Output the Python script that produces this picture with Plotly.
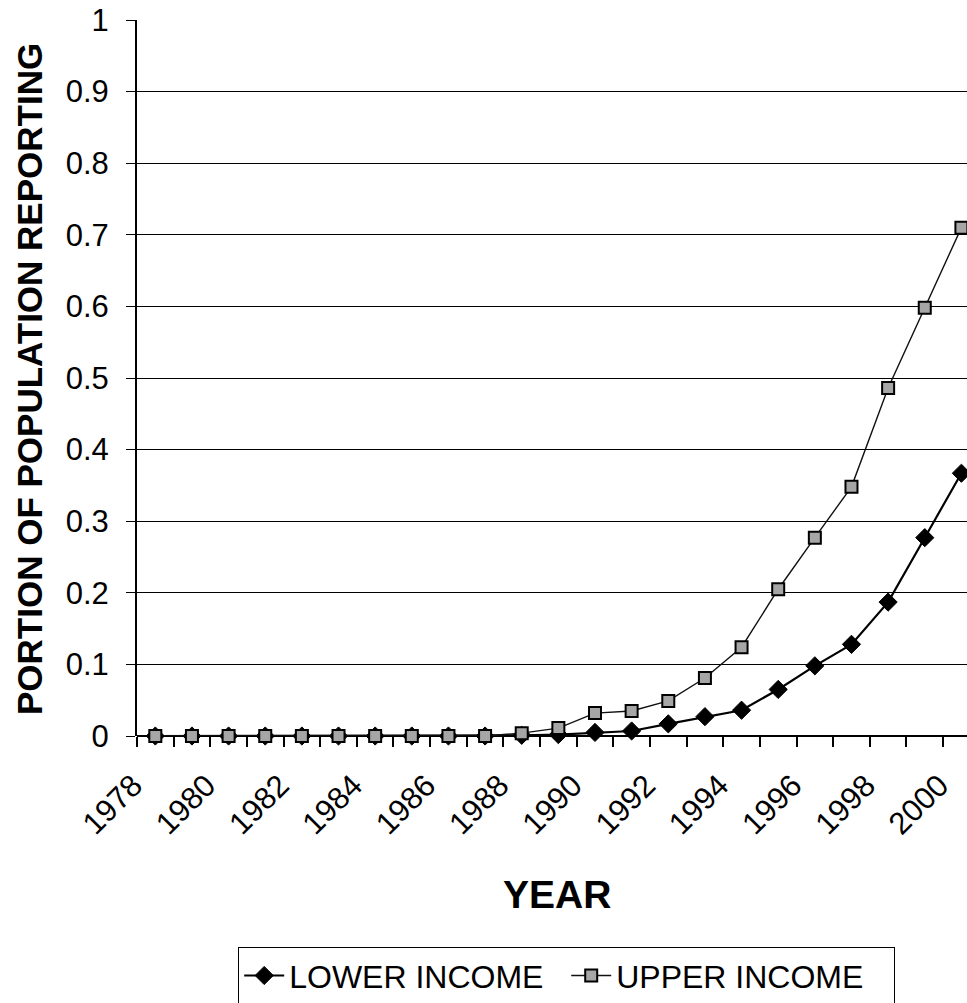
import plotly.graph_objects as go

# Share of the population reporting, by year and income group
years = list(range(1978, 2001))
lower_income = [0, 0, 0, 0, 0, 0, 0, 0, 0, 0,
                0.001, 0.002, 0.005, 0.007, 0.017, 0.027, 0.036,
                0.065, 0.098, 0.128, 0.187, 0.277, 0.367]
upper_income = [0, 0, 0, 0, 0, 0, 0, 0, 0, 0,
                0.004, 0.011, 0.032, 0.035, 0.049, 0.081, 0.124,
                0.205, 0.277, 0.348, 0.486, 0.598, 0.71]
year_labels = [str(y) for y in range(1978, 2001, 2)]
y_ticks = [0, 0.1, 0.2, 0.3, 0.4, 0.5, 0.6, 0.7, 0.8, 0.9, 1]

FONT = "Liberation Sans, Arial, sans-serif"
W, H = 967, 1003
ML, MT, MB = 137, 20, 267
plot_w = W - ML
plot_h = H - MT - MB
cat_w = 36.64  # pixels per year

fig = go.Figure()
fig.add_trace(go.Scatter(
    x=years, y=lower_income, name="LOWER INCOME", mode="lines+markers",
    line=dict(color="black", width=2.2),
    marker=dict(symbol="diamond", size=14, color="black",
                line=dict(color="black", width=1)),
    cliponaxis=False,
))
fig.add_trace(go.Scatter(
    x=years, y=upper_income, name="UPPER INCOME", mode="lines+markers",
    line=dict(color="#111111", width=1.4),
    marker=dict(symbol="square", size=12, color="#a6a6a6",
                line=dict(color="black", width=2)),
    cliponaxis=False,
))

x_end = 1977.5 + plot_w / cat_w

def px_to_paper_x(px):
    return (px - ML) / plot_w

def px_to_paper_y(py):
    return (MT + plot_h - py) / plot_h

fig.update_layout(
    template="none",
    width=W, height=H,
    margin=dict(l=ML, r=0, t=MT, b=MB, pad=0, autoexpand=False),
    paper_bgcolor="white", plot_bgcolor="white",
    font=dict(family=FONT, color="black"),
    showlegend=True,
    legend=dict(
        orientation="h",
        x=px_to_paper_x(238), xanchor="left",
        y=px_to_paper_y(947), yanchor="top",
        bordercolor="black", borderwidth=1.2,
        bgcolor="white",
        font=dict(size=32, family=FONT, color="black"),
        itemwidth=40, tracegroupgap=0,
        entrywidth=272, entrywidthmode="pixels",
    ),
    xaxis=dict(
        automargin=False,
        range=[1977.5, x_end],
        tickmode="array", tickvals=list(range(1978, 2001, 2)), ticktext=year_labels,
        tickangle=-45, ticks="", showgrid=False, zeroline=False,
        showline=False,
        tickfont=dict(size=31, family=FONT, color="black"),
        ticklabelshift=-22, ticklabelstandoff=24,
        minor=dict(ticks="outside", tick0=1977.5, dtick=1, ticklen=10,
                   tickwidth=1.5, tickcolor="black", showgrid=False),
    ),
    yaxis=dict(
        automargin=False,
        range=[0, 1], tickmode="array", tickvals=y_ticks,
        ticktext=[("%g" % v) for v in y_ticks],
        showgrid=True, gridcolor="black", gridwidth=1.3,
        zeroline=True, zerolinecolor="black", zerolinewidth=1.8,
        showline=True, linecolor="black", linewidth=2,
        ticks="outside", ticklen=9, tickwidth=1.3, tickcolor="black",
        ticklabelstandoff=11,
        tickfont=dict(size=31, family=FONT, color="black"),
    ),
    annotations=[
        dict(text="<b>YEAR</b>", xref="paper", yref="paper",
             x=px_to_paper_x(557), y=px_to_paper_y(894),
             xanchor="center", yanchor="middle", showarrow=False,
             font=dict(size=39, family=FONT, color="black")),
        dict(text="<b>PORTION OF POPULATION REPORTING</b>", xref="paper", yref="paper",
             x=px_to_paper_x(29), y=px_to_paper_y(379), textangle=-90,
             xanchor="center", yanchor="middle", showarrow=False,
             font=dict(size=35, family=FONT, color="black")),
    ],
)

fig.write_html("out.html")
